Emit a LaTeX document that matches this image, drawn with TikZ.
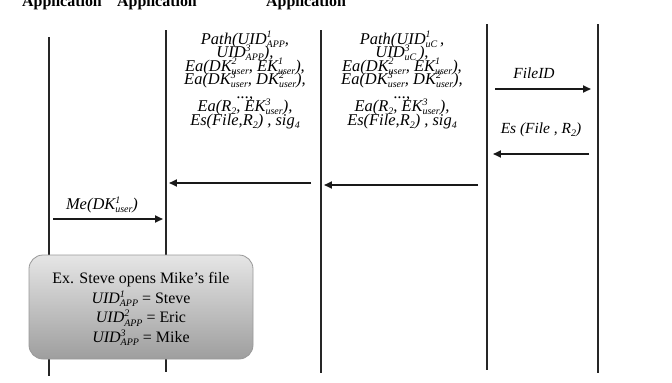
\documentclass[tikz,border=0pt]{standalone}
\usepackage{fontspec}
\setmainfont{Liberation Serif}
\usetikzlibrary{arrows.meta}

% stacked subscript / superscript in running text
\newcommand{\subsup}[2]{\makebox[0pt][l]{\raisebox{0.38em}{\fontsize{10}{10}\selectfont #2}}\raisebox{-0.2em}{\fontsize{10}{10}\selectfont #1}}
\newcommand{\lowi}[1]{\raisebox{-0.2em}{\fontsize{10}{10}\selectfont #1}}

\tikzset{
  lifeline/.style={line width=1.8pt, draw=black!85},
  msg/.style={line width=1.8pt, draw=black!90, -{Triangle[length=8pt,width=7pt]}},
  msgtext/.style={font=\fontsize{16.5}{16.5}\selectfont\itshape, inner sep=0pt},
  msgline/.style={msgtext, anchor=base},
  header/.style={font=\fontsize{16}{16}\selectfont\bfseries, anchor=base, inner sep=0pt},
  notebox/.style={rounded corners=14pt, draw=black!40, line width=0.8pt,
    top color=black!10, bottom color=black!38},
}

\begin{document}
\begin{tikzpicture}[x=1bp, y=-1bp]
\useasboundingbox (0,0) rectangle (672,382);
\clip (0,0) rectangle (672,382);

% column headers
\node[header] (h1) at (62,6) {Application};
\node[header] (h2) at (157,6) {Application};
\node[header] (h3) at (306,6) {Application};

% lifelines
\coordinate (l1t) at (49,37);  \coordinate (l1b) at (49,376);
\coordinate (l2t) at (166,30); \coordinate (l2b) at (166,372);
\coordinate (l3t) at (321,30); \coordinate (l3b) at (321,373);
\coordinate (l4t) at (487,24); \coordinate (l4b) at (487,370);
\coordinate (l5t) at (598,24); \coordinate (l5b) at (598,373);
\foreach \i in {1,...,5} \draw[lifeline] (l\i t) -- (l\i b);

% message from the right-hand side
\coordinate (fa) at (495,89);  \coordinate (fb) at (591,89);
\draw[msg] (fa) -- (fb);
\node[msgtext, font=\fontsize{15.5}{15.5}\selectfont\itshape] (fileid) at (534,73) {FileID};

\coordinate (ea) at (589,154); \coordinate (eb) at (493,154);
\draw[msg] (ea) -- (eb);
\node[msgtext, font=\fontsize{15.5}{15.5}\selectfont\itshape] (esfile) at (541,130) {Es (File , R\lowi{2})};

% middle message, one node per line
\coordinate (ma) at (478,185); \coordinate (mb) at (324,185);
\draw[msg] (ma) -- (mb);
\node[msgline] (mid1) at (402,44)   {Path(UID\subsup{uC}{1}\,,};
\node[msgline] (mid2) at (402,57.5) {UID\subsup{uC}{3}\,),};
\node[msgline] (mid3) at (402,71)   {Ea(DK\subsup{user}{2}, EK\subsup{user}{1}),};
\node[msgline] (mid4) at (402,84.5) {Ea(DK\subsup{user}{3}, DK\subsup{user}{2}),};
\node[msgline] (mid5) at (402,98)   {...,};
\node[msgline] (mid6) at (402,111.5){Ea(R\lowi{2}, EK\subsup{user}{3}),};
\node[msgline] (mid7) at (402,125)  {Es(File,R\lowi{2}) , sig\lowi{4}};

% left message, one node per line
\coordinate (la) at (311,183); \coordinate (lb) at (169,183);
\draw[msg] (la) -- (lb);
\node[msgline] (left1) at (245,44)   {Path(UID\subsup{APP}{1},};
\node[msgline] (left2) at (245,57.5) {UID\subsup{APP}{3}),};
\node[msgline] (left3) at (245,71)   {Ea(DK\subsup{user}{2}, EK\subsup{user}{1}),};
\node[msgline] (left4) at (245,84.5) {Ea(DK\subsup{user}{3}, DK\subsup{user}{2}),};
\node[msgline] (left5) at (245,98)   {...,};
\node[msgline] (left6) at (245,111.5){Ea(R\lowi{2}, EK\subsup{user}{3}),};
\node[msgline] (left7) at (245,125)  {Es(File,R\lowi{2}) , sig\lowi{4}};

% key message
\coordinate (ka) at (53,219); \coordinate (kb) at (163,219);
\draw[msg] (ka) -- (kb);
\node[msgtext] (metext) at (102,205) {Me(DK\subsup{user}{1})};

% example note
\path[notebox] (29,255) rectangle (253,359);
\node[font=\fontsize{16}{19.8}\selectfont, align=center, inner sep=0pt] (note) at (141,309)
  {Ex. Steve opens Mike's file\\
   \textit{UID\subsup{APP}{1}} = Steve\\
   \textit{UID\subsup{APP}{2}} = Eric\\
   \textit{UID\subsup{APP}{3}} = Mike};

% caption (cut by the lower edge)
\node[font=\fontsize{17}{17}\selectfont, anchor=base, inner sep=0pt] (cap) at (335,395)
  {Figure 5. Sequence diagram of file sharing};
\end{tikzpicture}
\end{document}
